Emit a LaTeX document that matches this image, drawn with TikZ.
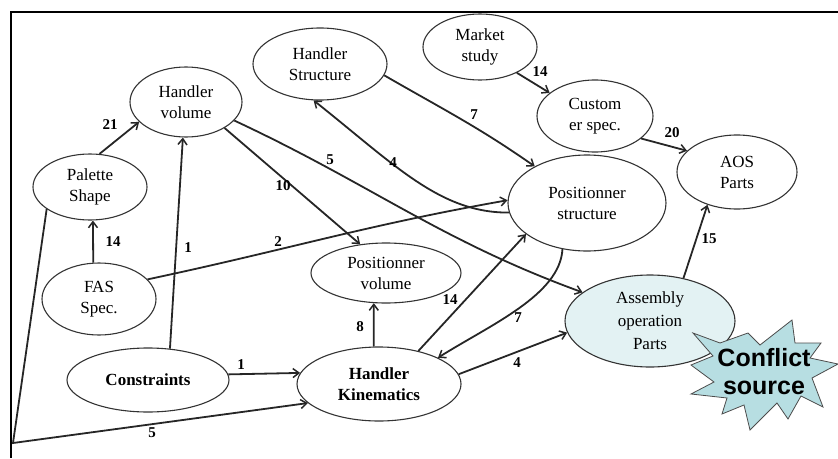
\documentclass[tikz,border=0pt]{standalone}
\usepackage{fontspec}
\setmainfont{Liberation Serif}
\newfontfamily\starfont{Liberation Sans}
\usetikzlibrary{shapes.geometric,arrows.meta}
\definecolor{apfill}{HTML}{E3F2F3}
\definecolor{starfill}{HTML}{B7DEE2}
\begin{document}
\begin{tikzpicture}[x=1pt,y=-1pt,
  ent/.style={ellipse,draw=black!80,line width=1.1pt,inner sep=0pt,align=center,font=\fontsize{17}{21}\selectfont},
  bent/.style={ent,font=\bfseries\fontsize{17}{21}\selectfont},
  lnk/.style={draw=black!85,line width=1.8pt,-{Straight Barb[length=6pt,width=9pt,line width=1.5pt]}},
  lab/.style={font=\bfseries\fontsize{15}{15}\selectfont,inner sep=0pt}
]
\useasboundingbox (0,0) rectangle (838,458);
\draw[line width=2pt] (10,12) -- (838,12);
\draw[line width=2pt] (11,11) -- (11,458);

% nodes
\node[ent,minimum width=112pt,minimum height=70pt] (hv) at (186,102) {Handler\\volume};
\node[ent,minimum width=114pt,minimum height=66pt] (ps) at (90,187) {Palette\\Shape};
\node[ent,minimum width=134pt,minimum height=72pt] (hs) at (320,64) {Handler\\Structure};
\node[ent,minimum width=114pt,minimum height=66pt] (ms) at (480,47) {Market\\study};
\node[ent,minimum width=116pt,minimum height=72pt] (cu) at (595,116) {Custom\\er spec.};
\node[ent,minimum width=120pt,minimum height=74pt] (aos) at (737,172) {AOS\\Parts};
\node[ent,minimum width=158pt,minimum height=96pt] (pst) at (587,203) {Positionner\\structure};
\node[ent,minimum width=114pt,minimum height=72pt] (fas) at (99,299) {FAS\\Spec.};
\node[bent,minimum width=162pt,minimum height=64pt] (con) at (148,380) {Constraints};
\node[ent,minimum width=150pt,minimum height=60pt] (pv) at (386,273) {Positionner\\volume};
\node[bent,minimum width=164pt,minimum height=74pt] (hk) at (379,384) {Handler\\Kinematics};
\node[ent,fill=apfill,minimum width=170pt,minimum height=92pt,font=\fontsize{17}{23}\selectfont] (ap) at (650,321) {Assembly\\operation\\Parts};

% star
\draw[fill=starfill,draw=black!70,line width=0.8pt]
  (693,333) -- (720,343) -- (748,333) -- (760,345) -- (792,320) -- (795,343)
  -- (821,343) -- (810,358) -- (838,364) -- (812,378) -- (823,407) -- (801,396)
  -- (788,419) -- (777,403) -- (750,430) -- (744,405) -- (722,414) -- (727,398)
  -- (691,394) -- (714,382) -- (691,365) -- (713,356) -- cycle;
\node[font=\starfont\bfseries\fontsize{25}{28}\selectfont,align=center,inner sep=0pt] (cs) at (764,372) {Conflict\\source};

% connectors
\draw[lnk] (ps.74) -- (hv.203);
\draw[lnk] (fas.99) -- (ps.-85);
\draw[lnk] (con.55) -- (hv.-95);
\draw[lnk] (fas.22) to[out=12,in=-170] (pst.178);
\draw[lnk] (hv.-21) to[out=-25,in=160] (ap.157);
\draw[lnk] (hv.-34) -- (pv.132);
\draw[lnk] (hs.-10) to[out=-30,in=145] (pst.145);
\draw[lnk] (pst.187) .. controls (440,213) and (395,165) .. (hs.-100);
\draw[lnk] (ms.-35) -- (cu.153);
\draw[lnk] (cu.-26) -- (aos.157);
\draw[lnk] (ap.52) -- (aos.-132);
\draw[lnk] (pst.-118) .. controls (560,295) and (490,325) .. (hk.24);
\draw[lnk] (hk.40) -- (pst.207);
\draw[lnk] (hk.98) -- (pv.-112);
\draw[lnk] (hk.7) -- (ap.188);
\draw[lnk] (con.4) -- (hk.172);
\coordinate (c5) at (13,443);
\draw[lnk] (ps.-153) -- (c5) -- (hk.-165);

% labels
\node[lab] (l21) at (110,125) {21};
\node[lab] (l14a) at (113,242) {14};
\node[lab] (l1a) at (188,248) {1};
\node[lab] (l2) at (278,242) {2};
\node[lab] (l5a) at (330,160) {5};
\node[lab] (l10) at (283,186) {10};
\node[lab] (l4a) at (393,163) {4};
\node[lab] (l7a) at (474,115) {7};
\node[lab] (l14b) at (540,72) {14};
\node[lab] (l20) at (672,133) {20};
\node[lab] (l15) at (709,239) {15};
\node[lab] (l14c) at (450,300) {14};
\node[lab] (l7b) at (518,318) {7};
\node[lab] (l8) at (360,327) {8};
\node[lab] (l4b) at (517,363) {4};
\node[lab] (l1b) at (241,365) {1};
\node[lab] (l5b) at (152,433) {5};
\end{tikzpicture}
\end{document}
